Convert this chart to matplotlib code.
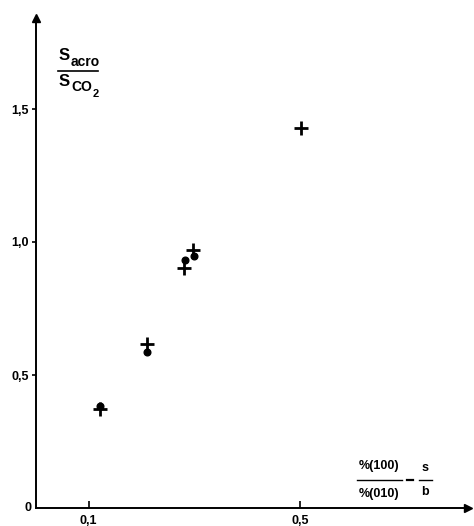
import matplotlib
matplotlib.use("Agg")
import matplotlib.pyplot as plt

# values
cross_x = [0.121, 0.211, 0.281, 0.297, 0.503]
cross_y = [0.372, 0.617, 0.901, 0.970, 1.430]
dot_x = [0.121, 0.211, 0.282, 0.300]
dot_y = [0.385, 0.588, 0.932, 0.949]
xticks = [0.1, 0.5]
xtick_labels = ["0,1", "0,5"]
yticks = [0.5, 1.0, 1.5]
ytick_labels = ["0,5", "1,0", "1,5"]

W, H = 474, 526
plt.rcParams["font.family"] = ["Liberation Sans", "DejaVu Sans"]
plt.rcParams["font.weight"] = "bold"

fig = plt.figure(figsize=(W / 100, H / 100), dpi=100)


def fx(px):
    return px / W


def fy(py):
    return 1 - py / H


ax = fig.add_axes([fx(36), fy(508), fx(466) - fx(36), fy(20) - fy(508)])
ax.set_xlim(0, (466 - 36) / 527.5)
ax.set_ylim(0, (508 - 20) / 266)

ax.plot(cross_x, cross_y, "+", color="black", markersize=10.5, markeredgewidth=2)
ax.plot(dot_x, dot_y, "o", color="black", markersize=4.8)

for side in ["top", "right"]:
    ax.spines[side].set_visible(False)
for side in ["left", "bottom"]:
    ax.spines[side].set_linewidth(1.4)

# arrow heads
ax.plot(1.005, 0, ">", color="black", markersize=6, transform=ax.transAxes, clip_on=False)
ax.plot(0, 1.005, "^", color="black", markersize=6, transform=ax.transAxes, clip_on=False)

ax.set_xticks(xticks)
ax.set_xticklabels(xtick_labels, fontsize=9, fontweight="bold")
ax.set_yticks(yticks)
ax.set_yticklabels(ytick_labels, fontsize=9, fontweight="bold")
ax.tick_params(axis="x", direction="in", length=5, width=1.2, pad=5)
ax.tick_params(axis="y", direction="out", length=3, width=1.2, pad=2)
fig.text(fx(28), fy(508), "0", fontsize=9, fontweight="bold", ha="center", va="center")

# y label as a fraction: S_acro / S_CO2
kw = dict(fontweight="bold", va="center", ha="left")
fig.text(fx(59), fy(56), "S", fontsize=12, **kw)
fig.text(fx(71), fy(62), "acro", fontsize=10, **kw)
fig.add_artist(plt.Line2D([fx(58), fx(98)], [fy(71), fy(71)], color="black", lw=1.2))
fig.text(fx(59), fy(81), "S", fontsize=12, **kw)
fig.text(fx(71), fy(87), "CO", fontsize=10, **kw)
fig.text(fx(93), fy(94), "2", fontsize=8, **kw)

# x label as a fraction: %(100) / %(010) = s / b
fig.text(fx(379), fy(466), "%(100)", fontsize=9, fontweight="bold", ha="center", va="center")
fig.add_artist(plt.Line2D([fx(357), fx(402)], [fy(480), fy(480)], color="black", lw=1.0))
fig.text(fx(379), fy(494), "%(010)", fontsize=9, fontweight="bold", ha="center", va="center")
fig.add_artist(plt.Line2D([fx(407), fx(413)], [fy(480), fy(480)], color="black", lw=1.6))
fig.text(fx(425), fy(468), "s", fontsize=9, fontweight="bold", ha="center", va="center")
fig.add_artist(plt.Line2D([fx(419), fx(432)], [fy(480), fy(480)], color="black", lw=1.0))
fig.text(fx(425), fy(492), "b", fontsize=9, fontweight="bold", ha="center", va="center")

fig.savefig("out.png", dpi=100)
